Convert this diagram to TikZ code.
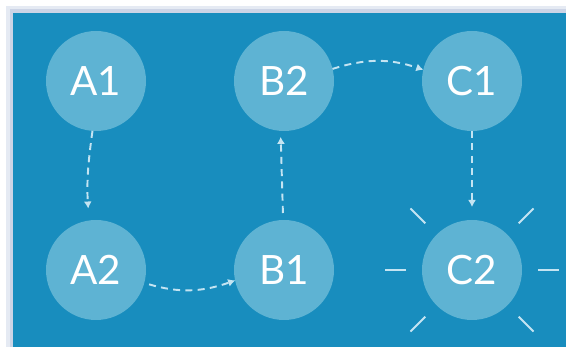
\documentclass[tikz,border=0pt]{standalone}
\usepackage{fontspec}
\setmainfont{Lato}
\usepackage{tikz}
\usetikzlibrary{arrows.meta, positioning}

\definecolor{panelblue}{RGB}{24,141,190}
\definecolor{nodeblue}{RGB}{94,179,211}
\definecolor{linewhite}{RGB}{196,228,242}
\definecolor{shadowgray}{RGB}{204,212,230}

\begin{document}
\begin{tikzpicture}[
    node distance=1.78cm and 1.76cm,
    every node/.style={font=\fontsize{23}{23}\selectfont},
    station/.style={circle, fill=nodeblue, text=white, minimum size=2cm, inner sep=0pt, outer sep=0pt},
    flow/.style={-{Latex[length=1.4mm,width=1.6mm]}, draw=linewhite, line width=1.1pt, dash pattern=on 4pt off 3pt},
    ray/.style={draw=linewhite, line width=1.1pt}
]
% panel with a soft edge
\useasboundingbox (0,0) rectangle (11.32,-6.94);
\fill[shadowgray!50] (0.12,-0.12) rectangle (11.6,-7.2);
\fill[shadowgray] (0.19,-0.19) rectangle (11.6,-7.2);
\fill[panelblue] (0.26,-0.26) rectangle (11.6,-7.2);

\node (a1) [station] at (1.92,-1.62) {A1};
\node (a2) [station, below=of a1] {A2};
\node (b2) [station, right=of a1] {B2};
\node (b1) [station, below=of b2] {B1};
\node (c1) [station, right=of b2] {C1};
\node (c2) [station, below=of c1] {C2};

\draw [flow, shorten >=0.24cm] (a1.266) to[bend right=6] (a2.98);
\draw [flow, shorten <=0.1cm] (a2.-15) to[bend right=18] (b1.192);
\draw [flow, shorten <=0.14cm, shorten >=0.12cm] (b1.91) -- (b2.266);
\draw [flow] (b2.14) to[bend left=18] (c1.167);
\draw [flow, shorten >=0.26cm] (c1.south) -- (c2.north);

% glow lines round C2
\foreach \ang in {0,45,135,180,225,315}
    \draw [ray] ([shift={(\ang:1.32)}]c2.center) -- ([shift={(\ang:1.74)}]c2.center);
\end{tikzpicture}
\end{document}
